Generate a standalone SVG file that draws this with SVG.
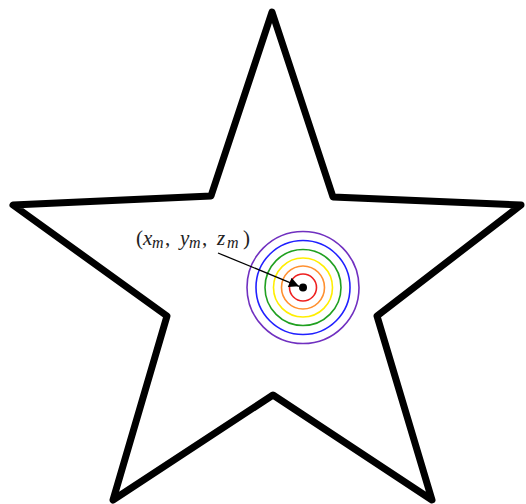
<svg xmlns="http://www.w3.org/2000/svg" width="526" height="504" viewBox="0 0 526 504">
<style>
.star{fill:none;stroke:#000;stroke-width:7;stroke-linejoin:round}
.ring{fill:none;stroke-width:1.6}
.lbl{font-family:"Liberation Serif","Times New Roman",serif;font-size:21px;fill:#222}
.it{font-style:italic}
.sub{font-style:italic;font-size:16px}
</style>
<defs>
<marker id="ah" viewBox="0 0 10 10" refX="10" refY="5" markerWidth="15" markerHeight="10" markerUnits="userSpaceOnUse" orient="auto">
<path d="M0,0 L10,5 L0,10 Z" fill="#000"/>
</marker>
</defs>
<rect width="526" height="504" fill="#fff"/>
<g id="star">
<polygon class="star" points="272,12 333,197 521,205 377,316 432,500 273,395 113,500 167,316 13,205 211,196"/>
</g>
<g id="rings">
<circle class="ring" cx="303" cy="287.5" r="56" stroke="#7030c0"/>
<circle class="ring" cx="303" cy="287.5" r="47" stroke="#2020ff"/>
<circle class="ring" cx="303" cy="287.5" r="38" stroke="#20a020"/>
<circle class="ring" cx="303" cy="287.5" r="29.5" stroke="#ffee00"/>
<circle class="ring" cx="303" cy="287.5" r="21.5" stroke="#ff9030"/>
<circle class="ring" cx="303" cy="287.5" r="13.5" stroke="#ee2020"/>
<circle cx="303" cy="287.5" r="4" fill="#000"/>
</g>
<g id="label">
<text class="lbl" y="245"><tspan x="136">(</tspan><tspan class="it" x="143">x</tspan><tspan class="sub" x="152" y="248">m</tspan><tspan x="165" y="245">,</tspan><tspan class="it" x="180">y</tspan><tspan class="sub" x="189" y="248">m</tspan><tspan x="202" y="245">,</tspan><tspan class="it" x="217">z</tspan><tspan class="sub" x="227" y="248">m</tspan><tspan x="243" y="245">)</tspan></text>
</g>
<g id="connectors">
<line x1="218" y1="253" x2="299" y2="286.3" stroke="#000" stroke-width="1.3" marker-end="url(#ah)"/>
</g>
</svg>
